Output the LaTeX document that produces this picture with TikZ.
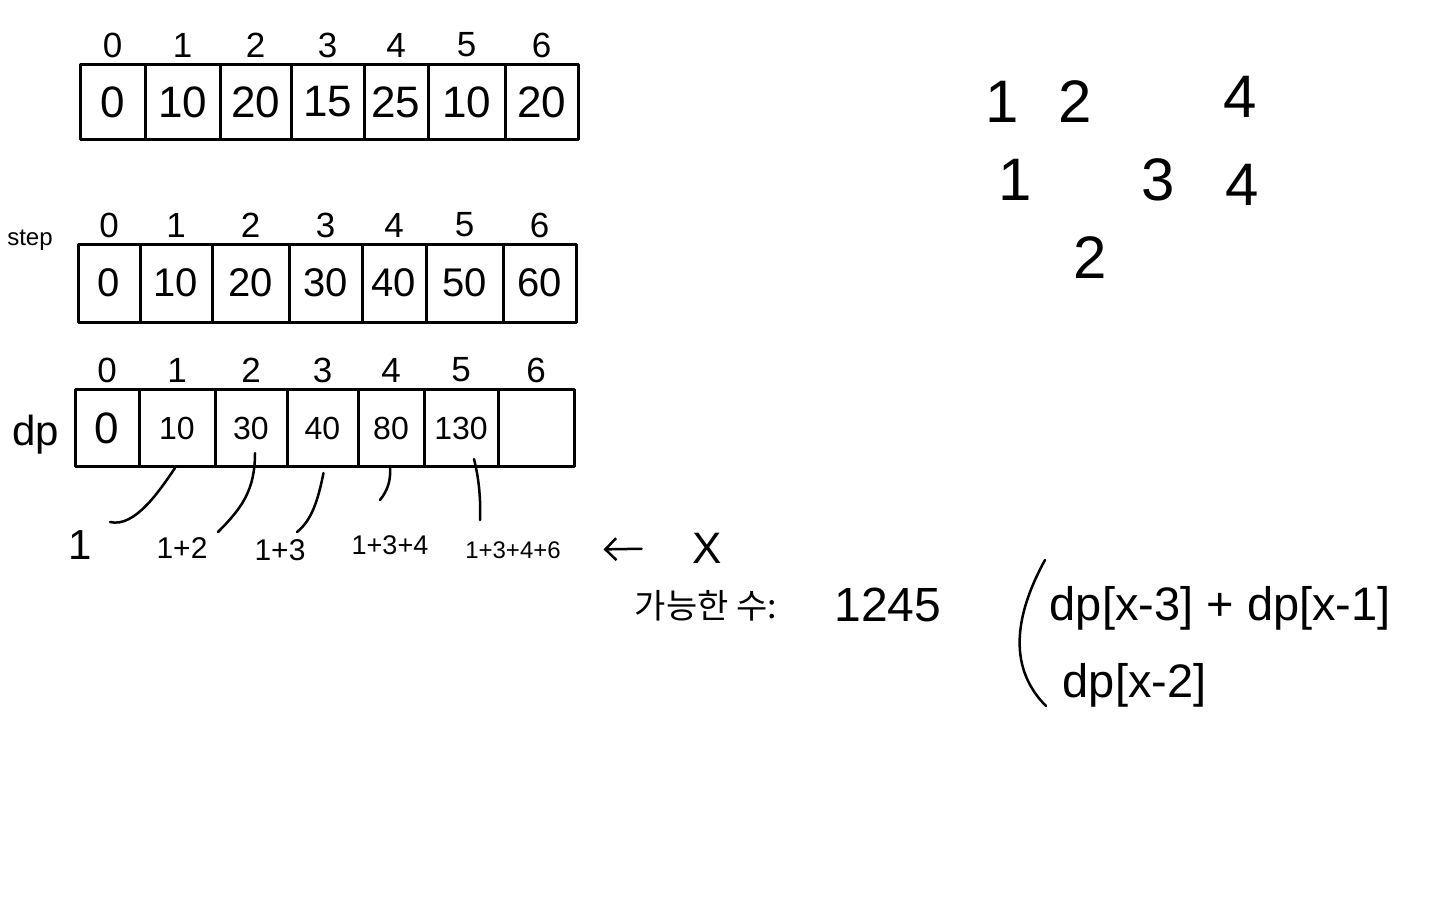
\documentclass[tikz,border=0pt]{standalone}
\usepackage{fontspec}
\usetikzlibrary{arrows.meta}
\setmainfont{Liberation Sans}
\newfontfamily\kr{Noto Sans CJK KR}
\begin{document}
\begin{tikzpicture}[x=1pt,y=-1pt,line width=3pt,line cap=round,line join=round,
  cell/.style={draw,line width=3pt,inner sep=0pt,anchor=center},
  idx/.style={font=\fontsize{35}{35}\selectfont},
  lbl/.style={font=\fontsize{30}{30}\selectfont},
  big/.style={font=\fontsize{60}{60}\selectfont},
  frm/.style={font=\fontsize{47}{47}\selectfont,anchor=west},
  link/.style={line width=2.5pt}]
\fill[white] (0,0) rectangle (1440,900);
\useasboundingbox (0,0) rectangle (1440,900);
% top array
\foreach \a/\b/\v [count=\i from 0] in {80/145/0,145/220/10,220/291/20,291/364/15,364/428/25,428/505/10,505/578/20}{
  \pgfmathsetmacro\cx{(\a+\b)/2}\pgfmathsetmacro\w{\b-\a}
  \node[cell,minimum width=\w pt,minimum height=75pt,font=\fontsize{44}{44}\selectfont] (top\i) at (\cx,102) {\v};
  \node[idx] (ti\i) at (\cx,45) {\i};
}
% step array
\foreach \a/\b/\v [count=\i from 0] in {78/140/0,140/212/10,212/289/20,289/362/30,362/426/40,426/503/50,503/576/60}{
  \pgfmathsetmacro\cx{(\a+\b)/2}\pgfmathsetmacro\w{\b-\a}
  \node[cell,minimum width=\w pt,minimum height=78pt,font=\fontsize{40}{40}\selectfont] (st\i) at (\cx,283) {\v};
  \node[idx] (si\i) at (\cx,225) {\i};
}
\node[font=\fontsize{24}{24}\selectfont] (steplbl) at (30,240) {step};
% dp array
\foreach \a/\b/\v [count=\i from 0] in {75/139/{\fontsize{44}{44}\selectfont 0},139/215/10,215/287/30,287/358/40,358/424/80,424/498/130,498/574/{}}{
  \pgfmathsetmacro\cx{(\a+\b)/2}\pgfmathsetmacro\w{\b-\a}
  \node[cell,minimum width=\w pt,minimum height=77pt,font=\fontsize{32}{32}\selectfont] (dp\i) at (\cx,428) {\v};
  \node[idx] (di\i) at (\cx,370) {\i};
}
\node[font=\fontsize{42}{42}\selectfont] (dplbl) at (36,435) {dp};
% labels under dp
\node[font=\fontsize{42}{42}\selectfont] (l1) at (80,545) {1};
\node[lbl] (l2) at (182,548) {1+2};
\node[lbl] (l3) at (280,550) {1+3};
\node[font=\fontsize{27}{27}\selectfont] (l4) at (390,545) {1+3+4};
\node[font=\fontsize{24}{24}\selectfont] (l5) at (513,550) {1+3+4+6};
\coordinate (e1) at (110,522);
\coordinate (e2) at (218,532);
\coordinate (e3) at (297,532);
\coordinate (e4) at (380,500);
\coordinate (e5) at (480,520);
\draw[link] ([xshift=-2pt]dp1.south) .. controls (160,490) and (135,528) .. (e1);
\draw[link] ([shift={(4,-15)}]dp2.south) .. controls (255,490) and (242,508) .. (e2);
\draw[link] ([shift={(1,5)}]dp3.south) .. controls (318,500) and (312,520) .. (e3);
\draw[link] ([shift={(-1,-2)}]dp4.south) .. controls (391,480) and (388,490) .. (e4);
\draw[link] ([shift={(13,-9)}]dp5.south) .. controls (478,475) and (481,495) .. (e5);
% arrow and X
\node[font=\fontsize{44}{44}\selectfont] (xx) at (707,548) {X};
\draw[link,-{Straight Barb[length=11pt,width=22pt]},shorten <=46pt,shorten >=38pt] (xx.west) -- (l5.east);
% possible count
\node[font=\kr\fontsize{34}{34}\selectfont] (kor) at (706,606) {가능한 수:};
\node[font=\fontsize{48}{48}\selectfont] (cnt) at (888,605) {1245};
% right numbers
\node[big] (r11) at (1002,102) {1};
\node[big] (r12) at (1075,102) {2};
\node[big] (r14) at (1240,97) {4};
\node[big] (r21) at (1015,180) {1};
\node[big] (r23) at (1158,180) {3};
\node[big] (r24) at (1242,185) {4};
\node[big] (r32) at (1090,258) {2};
% recurrence
\draw[link] (1045,560) .. controls (1012,620) and (1010,670) .. (1046,706);
\node[frm] (f1) at (1045,608) {dp[x-3] + dp[x-1]};
\node[frm] (f2) at (1058,685) {dp[x-2]};
\end{tikzpicture}
\end{document}
